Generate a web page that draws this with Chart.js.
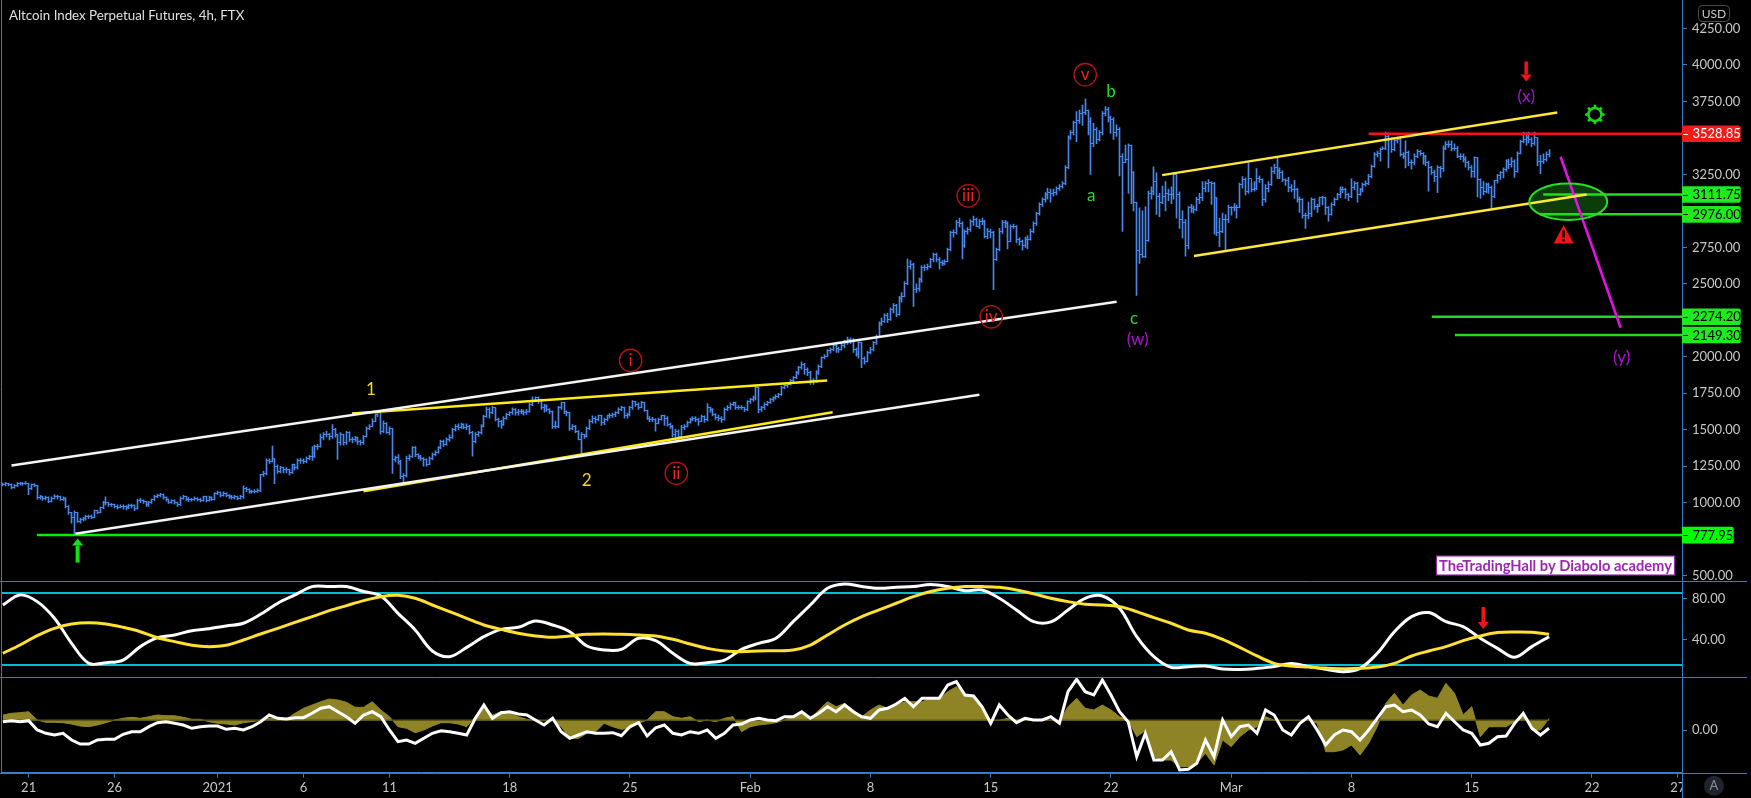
<!DOCTYPE html>
<html><head><meta charset="utf-8">
<style>html,body{margin:0;background:#000}canvas{display:block}</style>
<script src="https://cdn.jsdelivr.net/npm/chart.js@4"></script>
</head><body><canvas id="c" width="1751" height="798"></canvas>
<script>
// ---- values ----
const closes=[
1125,1130,1125,1105,1115,1130, 1130,1130,1135,1095,1125,1120, 1035,1040,1030,1035,1010,1030, 1045,1040,1025,1030,975,930, 900,930,870,885,890,905,
905,900,945,935,965,1000, 1000,985,985,975,970,975, 975,965,980,980,960,1015, 1015,1005,985,1000,1020,1045, 1050,1055,1035,1020,1000,1015,
1000,985,1030,1040,1025,1020, 1020,1030,1025,1015,1040,1015, 1035,1025,1060,1070,1050,1065, 1050,1045,1035,1040,1030,1045, 1100,1090,1075,1075,1080,1085,
1190,1200,1290,1285,1300,1250, 1215,1240,1230,1225,1205,1260, 1240,1290,1290,1285,1305,1315, 1320,1385,1385,1445,1470,1465, 1455,1500,1465,1410,1465,1410,
1480,1430,1435,1445,1420,1410, 1455,1510,1525,1560,1605,1615, 1490,1545,1480,1510,1295,1310, 1285,1180,1185,1305,1320,1375, 1330,1320,1305,1295,1265,1305,
1330,1345,1375,1420,1400,1435, 1445,1500,1525,1515,1535,1515, 1525,1480,1420,1465,1480,1525, 1590,1640,1615,1650,1570,1560, 1535,1580,1605,1615,1640,1615,
1625,1625,1615,1625,1675,1700, 1720,1705,1650,1660,1640,1625, 1525,1520,1650,1685,1625,1615, 1510,1525,1490,1435,1465,1455, 1510,1560,1580,1570,1595,1550,
1570,1595,1595,1605,1615,1640, 1650,1595,1605,1650,1695,1675, 1655,1685,1630,1580,1570,1570, 1545,1570,1595,1580,1535,1525, 1470,1490,1455,1515,1525,1550,
1570,1580,1570,1560,1590,1570, 1650,1640,1605,1585,1580,1570, 1640,1650,1675,1685,1650,1655, 1650,1640,1695,1705,1720,1790, 1640,1650,1675,1685,1705,1720,
1730,1740,1790,1800,1810,1835, 1855,1890,1925,1950,1915,1890, 1835,1835,1890,1935,1995,2005, 2040,2050,2075,2060,2050,2075, 2105,2120,2115,2050,2015,2095,
1985,1970,2030,2050,2095,2140, 2230,2245,2280,2255,2325,2350, 2290,2400,2415,2505,2620,2630, 2460,2470,2530,2610,2610,2620, 2665,2700,2665,2645,2640,2655,
2735,2850,2850,2920,2915,2760, 2860,2870,2930,2940,2895,2930, 2930,2825,2860,2850,2665,2735, 2860,2920,2915,2790,2895,2895, 2805,2790,2760,2805,2805,2860,
2915,2980,3045,3075,3110,3125, 3120,3125,3150,3165,3190,3300, 3500,3535,3605,3620,3670,3675, 3685,3615,3465,3560,3490,3535, 3670,3695,3640,3625,3535,3560,
3375,3330,3350,3445,3260,3055, 2725,2700,2690,2800,3120,3135, 3200,3100,3055,3100,3120,3110, 3110,3250,3110,2940,2920,2760, 3020,3015,3010,3080,3090,3155,
3190,3195,3190,3090,2850,2860, 2940,2940,3020,3020,3020,3020, 3180,3215,3135,3225,3145,3150, 3225,3215,3080,3155,3180,3270, 3295,3275,3260,3215,3205,3160,
3145,3145,3080,3075,2965,2965, 2985,3075,3030,3030,3090,3090, 3020,2975,3045,3080,3110,3145, 3145,3115,3100,3160,3190,3115, 3145,3180,3190,3235,3305,3385,
3395,3420,3430,3510,3490,3420, 3480,3490,3385,3375,3400,3330, 3330,3375,3410,3395,3375,3330, 3295,3265,3235,3295,3290,3430, 3455,3455,3430,3430,3375,3375,
3350,3330,3295,3270,3365,3215, 3160,3135,3180,3160,3100,3205, 3240,3260,3285,3340,3315,3340, 3270,3395,3475,3490,3500,3490, 3465,3500,3340,3340,3350,3385,
3400];
const highs=[
1135,1140,1135,1130,1125,1140, 1140,1138,1145,1135,1130,1130, 1120,1050,1045,1045,1040,1040, 1055,1050,1045,1040,1035,980, 935,945,935,895,900,915,
915,915,950,950,970,1010, 1040,1005,995,990,985,985, 985,980,990,990,985,1025, 1030,1020,1010,1010,1025,1050, 1060,1065,1060,1040,1025,1020,
1020,1005,1040,1050,1045,1035, 1030,1040,1035,1030,1045,1045, 1045,1040,1070,1080,1075,1075, 1070,1055,1050,1050,1045,1050, 1115,1105,1095,1085,1090,1095,
1195,1215,1300,1300,1388,1300, 1260,1250,1245,1240,1230,1265, 1265,1300,1305,1300,1315,1325, 1385,1395,1400,1470,1480,1490, 1475,1536,1510,1470,1480,1470,
1490,1485,1450,1455,1450,1430, 1460,1520,1535,1575,1610,1625, 1616,1560,1550,1520,1510,1320, 1330,1290,1200,1320,1330,1385, 1385,1335,1325,1310,1300,1315,
1340,1355,1385,1430,1430,1445, 1465,1510,1535,1540,1545,1540, 1540,1530,1490,1480,1490,1535, 1600,1655,1650,1660,1650,1580, 1565,1590,1615,1625,1650,1645,
1640,1640,1635,1640,1685,1725, 1725,1725,1710,1675,1670,1645, 1630,1560,1660,1690,1690,1630, 1620,1535,1530,1495,1480,1470, 1520,1570,1595,1590,1600,1600,
1580,1600,1610,1615,1625,1650, 1660,1655,1615,1660,1700,1695, 1685,1695,1690,1635,1590,1585, 1575,1580,1600,1600,1590,1545, 1530,1505,1500,1530,1535,1560,
1580,1590,1590,1580,1600,1595, 1680,1655,1645,1610,1600,1590, 1650,1665,1685,1690,1690,1665, 1665,1655,1700,1715,1730,1800, 1795,1660,1685,1695,1715,1725,
1740,1750,1800,1810,1820,1845, 1865,1900,1935,1965,1955,1925, 1900,1850,1905,1945,2000,2015, 2050,2060,2085,2100,2065,2090, 2115,2135,2130,2125,2060,2105,
2100,2000,2040,2065,2105,2150, 2240,2265,2295,2300,2335,2365, 2360,2415,2440,2515,2670,2660, 2640,2500,2540,2625,2630,2635, 2675,2710,2710,2680,2660,2665,
2745,2860,2870,2935,2950,2925, 2870,2885,2940,2965,2950,2940, 2950,2935,2880,2875,2860,2745, 2880,2935,2935,2925,2905,2910, 2900,2815,2800,2820,2830,2875,
2925,2990,3055,3090,3125,3155, 3150,3150,3165,3180,3200,3310, 3515,3550,3615,3680,3690,3725, 3768,3690,3640,3600,3570,3550, 3680,3715,3710,3650,3640,3590,
3570,3390,3450,3460,3450,3270, 3060,3020,3000,3030,3135,3165, 3302,3260,3120,3170,3200,3150, 3165,3260,3255,3130,3000,2940, 3030,3045,3035,3095,3120,3200,
3200,3215,3200,3195,3090,2950, 2985,2975,3040,3030,3050,3040, 3190,3235,3225,3330,3190,3200, 3290,3240,3220,3180,3200,3300, 3320,3365,3295,3275,3220,3230,
3180,3210,3155,3095,3085,2985, 3060,3090,3085,3045,3095,3100, 3095,3030,3055,3090,3120,3165, 3165,3155,3120,3220,3200,3195, 3155,3190,3205,3250,3315,3400,
3410,3430,3440,3540,3535,3500, 3495,3500,3505,3400,3480,3410, 3350,3390,3420,3415,3400,3380, 3340,3305,3280,3310,3305,3445, 3475,3480,3480,3460,3440,3390,
3390,3370,3340,3310,3370,3365, 3220,3200,3190,3190,3170,3210, 3250,3270,3295,3350,3355,3365, 3350,3405,3485,3540,3535,3540, 3500,3540,3500,3380,3390,3405,
3420];
const lows=[
1115,1115,1115,1095,1100,1110, 1120,1120,1125,1055,1090,1110, 1025,1025,1015,1020,1000,1005, 1025,1025,1015,1015,965,920, 860,780,865,860,875,880,
890,890,895,925,930,960, 985,975,975,965,955,965, 955,950,960,965,945,955, 1000,995,975,975,995,1015, 1035,1040,1025,1010,995,995,
990,975,980,1025,1015,1005, 1010,1015,1010,1005,1010,1005, 1010,1015,1020,1055,1040,1045, 1040,1030,1025,1025,1020,1025, 1030,1075,1065,1065,1065,1070,
1075,1180,1190,1270,1280,1130, 1200,1205,1205,1205,1190,1200, 1225,1230,1270,1270,1275,1295, 1290,1310,1365,1380,1430,1450, 1430,1440,1450,1296,1395,1395,
1400,1420,1410,1420,1400,1395, 1400,1450,1500,1520,1555,1590, 1470,1480,1475,1465,1200,1280, 1265,1165,1136,1175,1290,1310, 1315,1300,1290,1250,1250,1260,
1295,1320,1340,1370,1385,1395, 1420,1440,1490,1500,1510,1505, 1500,1470,1319,1410,1455,1470, 1520,1585,1580,1610,1560,1520, 1510,1530,1570,1595,1605,1600,
1600,1610,1600,1605,1620,1665, 1690,1680,1640,1620,1625,1610, 1510,1510,1515,1640,1610,1595, 1495,1500,1480,1430,1330,1440, 1450,1500,1545,1545,1560,1530,
1535,1560,1580,1585,1590,1610, 1630,1580,1580,1595,1640,1660, 1640,1650,1625,1570,1555,1555, 1490,1540,1565,1530,1525,1510, 1450,1430,1430,1450,1500,1520,
1545,1560,1555,1530,1555,1550, 1560,1620,1595,1570,1560,1550, 1565,1630,1640,1665,1640,1640, 1640,1625,1630,1680,1695,1705, 1615,1625,1640,1665,1680,1695,
1710,1720,1735,1780,1790,1805, 1825,1850,1880,1915,1880,1870, 1810,1810,1825,1880,1925,1985, 2000,2025,2040,2030,2030,2045, 2060,2085,2090,2030,2005,1990,
1925,1950,1965,2020,2040,2085, 2140,2215,2235,2235,2250,2300, 2275,2285,2375,2410,2495,2600, 2345,2440,2450,2510,2590,2595, 2610,2650,2650,2600,2625,2630,
2650,2725,2820,2840,2890,2670, 2750,2840,2860,2900,2890,2880, 2905,2815,2810,2815,2460,2660, 2725,2845,2885,2740,2790,2880, 2780,2765,2730,2750,2740,2800,
2850,2900,2970,3030,3060,3080, 3060,3100,3110,3140,3155,3180, 3290,3490,3520,3475,3600,3585, 3660,3520,3250,3440,3460,3480, 3520,3650,3610,3530,3490,3510,
3240,2860,3330,3120,3050,3000, 2420,2640,2680,2680,2790,3080, 3110,2975,2960,3050,3000,3070, 3050,3080,2950,2880,2815,2690, 2740,2990,2985,3000,3050,3070,
3130,3130,3045,2840,2830,2755, 2850,2730,2920,2970,3000,2950, 3020,3155,3110,3120,3130,3135, 3145,3195,3035,3060,3130,3175, 3255,3220,3220,3200,3175,3130,
3130,3085,3060,2990,2950,2880, 2945,2960,3010,2990,3030,3040, 2975,2930,2970,3035,3075,3090, 3125,3085,3070,3090,3145,3060, 3105,3130,3170,3180,3225,3300,
3370,3340,3420,3420,3295,3400, 3410,3465,3375,3360,3295,3310, 3285,3315,3365,3380,3320,3310, 3135,3250,3200,3125,3230,3270, 3420,3435,3410,3415,3365,3350,
3335,3300,3280,3230,3230,3095, 3085,3110,3125,3120,3020,3090, 3190,3215,3225,3270,3290,3300, 3230,3265,3390,3465,3450,3465, 3440,3450,3310,3255,3325,3340,
3370];
// oscillator pane, one value a day
const oscWhite=[73.8,83.7,77.1,60.7,36,16.3,17,19.6,32.8,41.6,44.3,48.5,50.5,53.1,55.8,64.6,75.5,83.7,91.9,91.9,91.9,87,82.7,65.6,49.2,28.5,22.9,32.1,42.6,49.8,51.8,58,54.1,47.5,33.4,
29.5,30.1,41,38.7,26.2,16.3,17,19.6,30.1,36,41,57.4,73.8,90.2,94.5,91.9,90.2,91.2,91.9,93.9,91.9,87.9,88.6,80.4,68.9,57.4,57.1,68.9,80.4,82.7,70.5,42.6,22.9,12.4,13.1,
13.7,10.8,10.4,11.4,13.1,16.3,13.1,10.4,8.1,11.4,26.2,47.5,62.3,66.3,57.4,52.5,41,31.1,22.3,32.8,42.6];
const oscYellow=[26.2,34.4,43.6,50.8,55.1,56.4,55.1,51.8,47.5,41.6,37.7,34.1,32.8,34.1,39.3,45.2,50.8,56.7,62.3,68.2,73.2,78.1,82,83.3,80.4,73.8,67.3,60.7,54.1,49.8,45.9,43.3,42,43.3,44.9,
45.2,44.9,44.3,43.3,40,35.4,31.1,28.5,27.8,28.5,28.8,29.5,34.4,44.3,54.1,62.3,68.9,75.5,82,87,90.2,91.9,91.9,91.2,88.6,84.7,80.4,77.1,74.5,73.8,72.2,67.3,61.3,55.8,49.2,
45.9,40,32.1,23.6,16.3,13.7,12.7,11.7,11.1,11.4,12.7,16.3,23.6,28.5,32.8,38.7,43.3,46.6,47.2,46.9,44.9];
// lower pane, one value every 12h
const flowWhite=[8.6,9.6,8.6,9.6,.3,-3,-4.7,-3,-9.7,-13.7,-13.7,-9.7,-9,-9,-4,-1.4,-1.4,3.6,7.6,8.6,7,5.3,2,3.6,4.3,4.3,1,2,.3,3.6,8.6,15.3,12,11.3,12.6,12.6,17,22,23.6,18.6,13.6,7,15.3,18.6,13.6,.3,-11.4,-9.7,-13,-8,-3,-.4,-1.4,-3,-4.7,12,25.3,12,17.6,18.6,16.3,15.3,10.3,5.3,12,-1.4,-8,-4.7,-1.4,-3,
-3,-2.4,-5.4,3.6,7.6,-5.7,2.6,5.3,-3,-4.7,-1.4,-3,.3,-8,-3,5.3,6.3,10.3,12,10.3,9.6,13.6,13.6,18.6,12,17,23.6,18.6,25.3,18.6,13.6,12,20.3,22,26.3,32,23.6,32,32,32,45.3,48.6,35.3,34.3,23.6,7,25.3,15.3,7.6,12,10.3,10.3,13.6,7,38.6,51,38.6,35.3,50.3,35.3,18.6,8.6,-26.4,-3,-29.7,-29.7,-21.4,-39.7,-39,
-33,-9.7,-26.4,10.3,-6.4,3.6,5.3,-3,20.3,15.3,.3,-4.7,7,13.6,.3,-14.7,-4.7,.3,-1.4,-9.7,.3,12,23.6,25.3,18.6,20.3,15.3,6.3,3.6,17,8.6,.3,-3,-14.7,-13,-6.4,-5.7,7,17,2,-4.7,2];
const flowArea=[15.3,17,17.6,18.6,10.3,8,8,7.6,6.3,4.3,3.6,5.3,7.6,10.3,12,13,12,13.6,15.3,14.6,14.6,13,11,11,8.6,7,6.3,5.3,7.6,8.6,10.3,12,11.3,11.3,17,22,25.3,28.6,31.3,30.3,28,23,23,28.6,20.3,13.6,3.6,2,-2.4,.3,4.3,7.6,7.6,6.3,3.6,13.6,23.6,15.3,18.6,17,13.6,11,9.6,9.6,9.6,3.6,-8,-8,-3,-1.4,
7,3.6,1,2,7,10.3,18.6,18.6,13.6,12,13.6,8.6,10.3,8.6,12,13.6,-1.4,3.6,5.3,6.3,7.6,10.3,13.6,17,12,20.3,28.6,23.6,27,20.3,13.6,20.3,25.3,22,25.3,28.6,28.6,28.6,32,32,38.6,43.6,35.3,33.6,23.6,10,10,12,10,12,10.3,10.3,10.3,8.6,23.6,32,22,20.3,25.3,20.3,13.6,10,-6.4,-.4,-26.4,-29.7,-29.7,-36.4,-36.4,
-33,-23,-34.7,-9.7,-16.4,-6.4,.3,3.6,13.6,10,10,10,10,10,7,-21.4,-21.4,-19.7,-14.7,-24.7,-13,3.6,27,37,25.3,35.3,40.3,34.3,32,47,37,15.3,23.6,-6.4,3.6,3.6,3.6,8.6,16.3,.3,.3,11.9];
const flowBase=10;
const oscBands=[85.6,14.7];
// axis ticks
const priceTicks=[4250,4000,3750,3250,2750,2500,2000,1750,1500,1250,1000,500];
const oscTicks=[80,40];
const flowTicks=[0];
const dayTicks=[0,5,11,16,21,28,35,42,49,56,63,70,77,84,91,96];
const dayLabels=['21','26','2021','6','11','18','25','Feb','8','15','22','Mar','8','15','22','27'];
const firstBarDay=-1.5, xMin=-1.61, xMax=96.24;
// drawn lines: [day, price] pairs
const whiteUpper=[[-1,1255],[63.33,2377]];
const whiteLower=[[2.72,787],[55.34,1740]];
const yellowUpperShort=[[18.82,1611],[46.48,1838]];
const yellowLowerShort=[[19.49,1079],[46.8,1620]];
const yellowChannelUp=[[65.98,3245],[88.98,3674]];
const yellowChannelLow=[[67.83,2690],[90.69,3112]];
const magentaPath=[[89.17,3371],[92.67,2199]];
const levelRed=[[78,3528.85]];
const levelGreen=[[88.16,3111.75],[87.97,2976],[81.68,2274.2],[83.02,2149.3]];
const levelLime=[[0.48,777.95]];
const zoneEllipse={day:89.62,price:3062,rDay:2.27,rPrice:125};
// labels: text, day, price
const waveYellow=[['1',19.93,1776],['2',32.48,1154]];
const waveRedCircled=[['i',35.04,1975],['ii',37.7,1202],['iii',54.69,3103],['iv',56.03,2274],['v',61.5,3933]];
const waveGreen=[['a',61.85,3106],['b',63.01,3820],['c',64.34,2260]];
const wavePurple=[['(w)',64.55,2119],['(x)',87.17,3784],['(y)',92.72,1997]];
const tagsRed=[3528.85], tagsGreen=[3111.75,2976.00,2274.20,2149.30], tagsLime=[777.95];

// ---- chart ----
const FONT='Lato';
const BLUE='#2f7fd0', BAR='#4a86e8';
const barX=i=>firstBarDay+i/6;
const seg=(pts,color,w,axis='yP',order=2)=>({type:'line',data:pts.map(p=>({x:p[0],y:p[1]})),borderColor:color,borderWidth:w,pointRadius:0,yAxisID:axis,tension:0,order});
const tick=(arr)=>function(s){s.ticks=arr.map(v=>({value:v}));};
const yScale=(min,max,weight,stackWeight,arr)=>({type:'linear',position:'right',stack:'panes',stackWeight,weight,min,max,
  afterBuildTicks:tick(arr),afterFit(s){s.width=69;s.paddingTop=0;s.paddingBottom=0;},
  border:{color:BLUE,width:1},grid:{drawOnChartArea:false,color:BLUE,tickLength:5},
  ticks:{color:'#c8c8c8',padding:5,autoSkip:false,font:{family:FONT,size:13},callback:v=>Number(v).toFixed(2)}});

const overlay={id:'overlay',
 beforeDatasetsDraw(c){
  const {ctx,scales:{x,yP}}=c;
  // keep the 1px bars and their close steps on whole pixels
  c.getDatasetMeta(0).data.forEach(el=>{el.x=Math.floor(el.x)+.5;});
  c.getDatasetMeta(1).data.forEach(el=>{el.x=Math.floor(el.x)+.5;el.y=Math.floor(el.y)+.5;});
  const e=zoneEllipse,cx=x.getPixelForValue(e.day),cy=yP.getPixelForValue(e.price);
  ctx.save();ctx.beginPath();
  ctx.ellipse(cx,cy,x.getPixelForValue(e.day+e.rDay)-cx,yP.getPixelForValue(e.price-e.rPrice)-cy,0,0,Math.PI*2);
  ctx.fillStyle='#0b3d0b';ctx.fill();ctx.restore();
 },
 afterDraw(c){
  const {ctx,chartArea:a,scales:{x,yP,yO}}=c;
  const X=v=>x.getPixelForValue(v),P=v=>yP.getPixelForValue(v);
  ctx.save();
  // ellipse outline
  const e=zoneEllipse;ctx.beginPath();
  ctx.ellipse(X(e.day),P(e.price),X(e.day+e.rDay)-X(e.day),P(e.price-e.rPrice)-P(e.price),0,0,Math.PI*2);
  ctx.strokeStyle='#2bdc2b';ctx.lineWidth=2;ctx.stroke();
  // clip of last time label, pane separators
  ctx.fillStyle='#000';ctx.fillRect(a.right+1,a.bottom+1,30,25);
  ctx.strokeStyle=BLUE;ctx.lineWidth=1;
  const hl=y=>{ctx.beginPath();ctx.moveTo(0,Math.round(y)+.5);ctx.lineTo(1747,Math.round(y)+.5);ctx.stroke();};
  hl(yP.bottom);hl(yO.bottom);hl(a.bottom);
  ctx.beginPath();ctx.moveTo(1.5,0);ctx.lineTo(1.5,a.bottom);ctx.moveTo(a.right+.5,0);ctx.lineTo(a.right+.5,798);ctx.stroke();
  // title
  ctx.textBaseline='middle';ctx.textAlign='left';ctx.fillStyle='#e0e0e0';ctx.font='13.3px '+FONT;
  ctx.fillText('Altcoin Index Perpetual Futures, 4h, FTX',9,16);
  // wave labels
  ctx.textAlign='center';ctx.font='17px '+FONT;
  const put=(list,col)=>{ctx.fillStyle=col;list.forEach(l=>ctx.fillText(l[0],X(l[1]),P(l[2])));};
  put(waveYellow,'#f5d33a');put(waveGreen,'#22dd22');put(wavePurple,'#b010d0');
  waveRedCircled.forEach(l=>{ctx.beginPath();ctx.arc(X(l[1]),P(l[2]),11.2,0,Math.PI*2);ctx.strokeStyle='#b81414';ctx.lineWidth=1.3;ctx.stroke();ctx.fillStyle='#f02020';ctx.fillText(l[0],X(l[1]),P(l[2]));});
  // arrows
  const arrow=(px,y0,y1,col,w)=>{const d=Math.sign(y1-y0),hw=5.5,hh=7;ctx.strokeStyle=col;ctx.lineWidth=w;ctx.beginPath();ctx.moveTo(px,y0);ctx.lineTo(px,y1-d*hh);ctx.stroke();ctx.fillStyle=col;ctx.beginPath();ctx.moveTo(px,y1);ctx.lineTo(px-hw,y1-d*hh);ctx.lineTo(px+hw,y1-d*hh);ctx.fill();};
  arrow(X(87.17),P(4024),P(3887),'#f01414',3.5);
  arrow(X(2.85),P(590),P(755),'#18e018',4);
  arrow(X(84.67),yO.getPixelForValue(71.8),yO.getPixelForValue(50.1),'#f01414',3.5);
  // sun
  const sx=X(91.17),sy=P(3661);ctx.strokeStyle='#18d818';ctx.lineWidth=2.5;ctx.beginPath();ctx.arc(sx,sy,6.5,0,Math.PI*2);ctx.stroke();
  ctx.fillStyle='#18d818';for(let k=0;k<8;k++){const t=k*Math.PI/4;ctx.beginPath();ctx.arc(sx+8.4*Math.cos(t),sy+8.4*Math.sin(t),1.5,0,Math.PI*2);ctx.fill();}
  // warning
  const wx=X(89.35),wy=P(2838);ctx.fillStyle='#f01414';ctx.beginPath();ctx.moveTo(wx,wy-9.5);ctx.lineTo(wx+10,wy+9);ctx.lineTo(wx-10,wy+9);ctx.fill();
  ctx.fillStyle='#000';ctx.fillRect(wx-1.2,wy-4,2.4,7);ctx.fillRect(wx-1.2,wy+4.5,2.4,2.4);
  // price tags
  const tag=(v,bg,fg,w)=>{const y=P(v);ctx.fillStyle=bg;ctx.beginPath();ctx.roundRect(a.right,y-8.3,w,16.6,[0,2,2,0]);ctx.fill();
    ctx.strokeStyle=fg==='#000'?'#000':'#fff';ctx.lineWidth=1;ctx.beginPath();ctx.moveTo(a.right+1,Math.round(y)+.5);ctx.lineTo(a.right+6,Math.round(y)+.5);ctx.stroke();
    ctx.fillStyle=fg;ctx.textAlign='left';ctx.font='13px '+FONT;ctx.fillText(v.toFixed(2),a.right+10.5,y+.5);};
  tagsRed.forEach(v=>tag(v,'#f21b1b','#fff',58.7));
  tagsGreen.forEach(v=>tag(v,'#1eea1e','#000',58.7));
  tagsLime.forEach(v=>tag(v,'#00ff00','#000',51.7));
  // USD
  ctx.strokeStyle='#4a4a4a';ctx.lineWidth=1;ctx.beginPath();ctx.roundRect(1698.5,5.5,31,16,4);ctx.stroke();
  ctx.fillStyle='#c8c8c8';ctx.textAlign='center';ctx.font='12px '+FONT;ctx.fillText('USD',1714,14);
  // A
  ctx.fillStyle='#20222c';ctx.beginPath();ctx.arc(1714,785.7,10,0,Math.PI*2);ctx.fill();
  ctx.fillStyle='#8a8d99';ctx.font='13px '+FONT;ctx.fillText('A',1714,785.5);
  // signature
  ctx.fillStyle='#fff';ctx.fillRect(1436.5,556,238,19);ctx.strokeStyle='#9c27b0';ctx.lineWidth=1.2;ctx.strokeRect(1436.5,556,238,19);
  ctx.fillStyle='#9c27b0';ctx.font='bold 14.7px '+FONT;ctx.fillText('TheTradingHall by Diabolo academy',1555.5,566);
  ctx.restore();
 }};

new Chart(document.getElementById('c'),{
 type:'bar',
 data:{datasets:[
  {type:'bar',data:highs.map((h,i)=>({x:barX(i),y:[lows[i],h]})),backgroundColor:BAR,barThickness:1,yAxisID:'yP',order:10},
  {type:'line',data:closes.map((v,i)=>({x:barX(i),y:v})),stepped:true,borderColor:BAR,borderWidth:1,pointRadius:0,yAxisID:'yP',order:9},
  seg(whiteUpper,'#f4f4f4',2.5),seg(whiteLower,'#f4f4f4',2.5),
  seg(yellowUpperShort,'#ffeb1a',2.5),seg(yellowLowerShort,'#ffeb1a',2.5),
  seg(yellowChannelUp,'#ffe83a',2.5),seg(yellowChannelLow,'#ffe83a',2.5),
  seg(magentaPath,'#e810e8',2.5),
  seg(levelRed.concat([[xMax,levelRed[0][1]]]),'#f51414',2.5),
  ...levelGreen.map(l=>seg([l,[xMax,l[1]]],'#22dc22',2.5)),
  seg(levelLime.concat([[xMax,levelLime[0][1]]]),'#00f000',2.5),
  ...oscBands.map(v=>seg([[xMin,v],[xMax,v]],'#00bcd4',2,'yO',5)),
  {type:'line',data:oscYellow.map((v,i)=>({x:firstBarDay+i,y:v})),borderColor:'#ffe033',borderWidth:3,pointRadius:0,tension:.35,yAxisID:'yO',order:3},
  {type:'line',data:oscWhite.map((v,i)=>({x:firstBarDay+i,y:v})),borderColor:'#ffffff',borderWidth:3,pointRadius:0,tension:.35,yAxisID:'yO',order:4},
  {type:'line',data:flowArea.map((v,i)=>({x:firstBarDay+i/2,y:v})),borderColor:'#8f8425',borderWidth:1,backgroundColor:'#8f8425',fill:{value:flowBase},pointRadius:0,tension:0,yAxisID:'yF',order:4},
  seg([[firstBarDay,flowBase],[firstBarDay+(flowArea.length-1)/2,flowBase]],'#5e5716',1.5,'yF',3),
  {type:'line',data:flowWhite.map((v,i)=>({x:firstBarDay+i/2,y:v})),borderColor:'#ffffff',borderWidth:3,pointRadius:0,tension:0,yAxisID:'yF',order:2}
 ]},
 options:{responsive:false,animation:false,devicePixelRatio:1,
  layout:{autoPadding:false,padding:{left:1,top:0,right:0,bottom:0}},
  plugins:{legend:{display:false},tooltip:{enabled:false}},
  events:[],
  scales:{
   x:{type:'linear',offset:false,min:xMin,max:xMax,position:'bottom',
      afterBuildTicks:tick(dayTicks),afterFit(s){s.height=25.3;},
      border:{color:BLUE},grid:{offset:false,drawOnChartArea:false,color:BLUE,tickLength:5},
      ticks:{color:'#c8c8c8',autoSkip:false,maxRotation:0,padding:2,font:{family:FONT,size:13},
             callback:v=>dayLabels[dayTicks.indexOf(v)]}},
   yP:yScale(467,4445,1,580.5,priceTicks),
   yO:yScale(2.9,97.9,2,96.5,oscTicks),
   yF:yScale(-42.4,53.3,3,95.7,flowTicks)
  }},
 plugins:[overlay]
});
</script></body></html>
